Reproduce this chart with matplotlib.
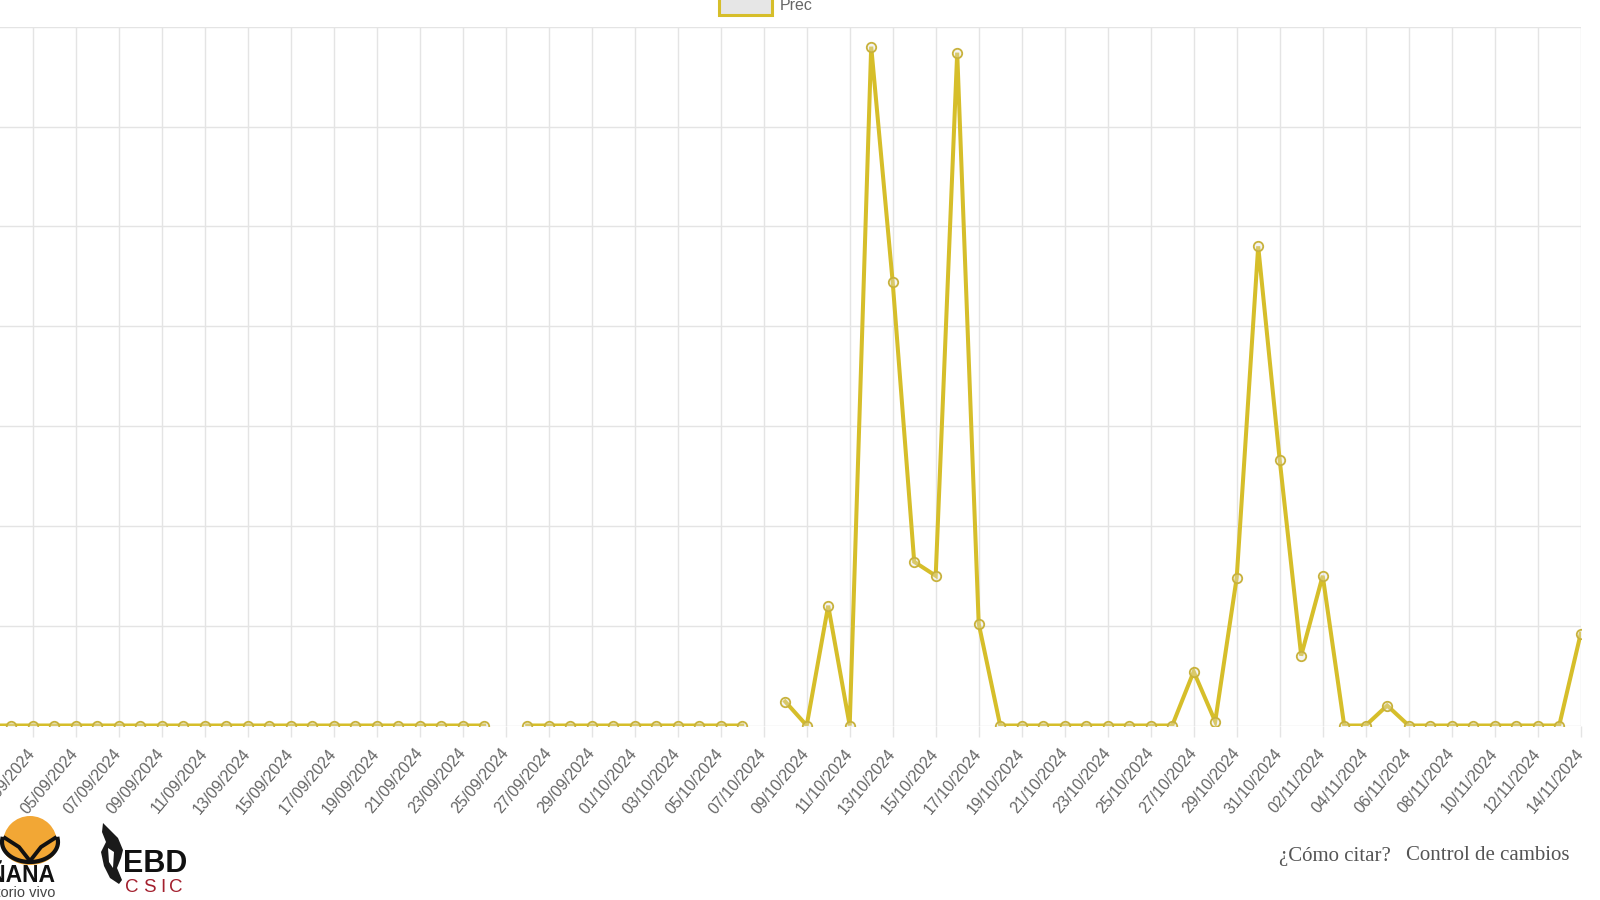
import numpy as np
import pandas as pd
from matplotlib import pyplot as plt
from matplotlib.patches import Rectangle, Ellipse, Polygon

# daily dates shown on the x axis
dates = pd.date_range("2024-09-01", "2024-11-14", freq="D")
date_labels = [d.strftime("%d/%m/%Y") for d in dates]

# precipitation (mm), None = no data
prec = ([0.0] * 24 + [None] + [0.0] * 11 + [None] +
        [1.2, 0.0, 6.0, 0.0, 34.0, 22.2, 8.2, 7.5, 33.7, 5.1] +
        [0.0] * 9 +
        [2.7, 0.2, 7.4, 24.0, 13.3, 3.5, 7.5, 0.0, 0.0, 1.0] +
        [0.0] * 8 + [4.6])
prec = np.array([np.nan if v is None else v for v in prec])

line_col = "#d6be2a"
grid_col = "#e4e4e4"
W, H = 1600, 900

fig = plt.figure(figsize=(16, 9), dpi=100)
fig.patch.set_facecolor("white")

def fx(px):
    return np.asarray(px) / W

def fy(py):
    return 1 - np.asarray(py) / H

# chart area: left part is cut off by the screenshot
x0_px = -10.3
step_px = 21.5
n = len(dates)
left = fx(x0_px)
right = fx(x0_px + (n - 1) * step_px)
bottom = fy(725.5)
top = fy(26.7)
ax = fig.add_axes([left, bottom, right - left, top - bottom])

x = np.arange(n)
ax.plot(x, prec, color=line_col, lw=2.9, zorder=3, solid_joinstyle="miter")
ax.plot(x, prec, ls="none", marker="o", ms=6.8, mew=1.3,
        mfc=(0.88, 0.88, 0.88, 0.35), mec="#c8b23c", zorder=4)

ax.set_xlim(0, n - 1)
ax.set_ylim(0, 35)
ticks = x[2::2]
ax.set_xticks(ticks)
ax.set_xticklabels([date_labels[i] for i in ticks])
ax.set_yticks(np.arange(0, 36, 5))
ax.set_yticklabels([])
ax.grid(True, color=grid_col, lw=1.0)
ax.set_axisbelow(True)
for s in ax.spines.values():
    s.set_visible(False)
ax.tick_params(axis="x", length=8, width=1.0, color=grid_col, pad=10,
               labelsize=11.5, labelcolor="#666666")
ax.tick_params(axis="y", length=0)
for lab in ax.get_xticklabels():
    lab.set_rotation(50)
    lab.set_ha("right")
    lab.set_va("center")
    lab.set_rotation_mode("anchor")
    lab.set_fontfamily("Liberation Sans")

# legend at the top
fig.patches.append(Rectangle((fx(719), fy(15)), fx(53), 18 / H, transform=fig.transFigure,
                             facecolor="#e6e6e6", edgecolor=line_col, lw=2.2))
fig.text(fx(780), fy(6), "Prec", fontsize=11.5, color="#666666",
         family="Liberation Sans", va="center", ha="left")

# footer links
fig.text(fx(1279), fy(856), "¿Cómo citar?", fontsize=15, color="#555555",
         family="Liberation Serif", va="center", ha="left")
fig.text(fx(1406), fy(856), "Control de cambios", fontsize=15, color="#555555",
         family="Liberation Serif", va="center", ha="left")

# Doñana logo (partly cut by the screenshot)
fig.patches.append(Ellipse((fx(30), fy(843)), 54 / W, 54 / H, transform=fig.transFigure,
                           facecolor="#f2a735", edgecolor="none"))
ang = np.linspace(np.pi * 0.95, np.pi * 2.05, 40)
bowl_x = np.concatenate([30 + 29 * np.cos(ang), [60, 60, 0, 0]])
bowl_y = np.concatenate([843 - 22 * np.sin(ang), [843, 900, 900, 843]])
fig.patches.append(Polygon(np.column_stack([fx(bowl_x), fy(bowl_y)]), closed=True,
                           transform=fig.transFigure, facecolor="white", edgecolor="none"))
fig.lines.append(plt.Line2D(fx(30 + 28 * np.cos(ang)), fy(842 - 20 * np.sin(ang)),
                            transform=fig.transFigure, color="#111111", lw=3))
fig.lines.append(plt.Line2D(fx([5, 19, 30, 41, 55]), fy([838, 847, 861, 847, 838]),
                            transform=fig.transFigure, color="#111111", lw=2.8))
fig.text(fx(55), fy(876), "DOÑANA", fontsize=16.5, fontweight="bold", color="#111111",
         family="Liberation Sans", va="center", ha="right")
fig.text(fx(55), fy(893), "territorio vivo", fontsize=10.5, color="#444444",
         family="Liberation Sans", va="center", ha="right")

# EBD CSIC logo
fig.patches.append(Polygon(np.column_stack([fx([103, 110, 118, 123, 121, 117, 122, 119, 110, 104, 101, 106, 102]),
                                            fy([823, 830, 838, 850, 858, 868, 880, 884, 878, 866, 852, 842, 832])]),
                           closed=True, transform=fig.transFigure,
                           facecolor="#1a1a1a", edgecolor="none"))
fig.patches.append(Polygon(np.column_stack([fx([108, 114, 113, 109]), fy([848, 852, 868, 862])]),
                           closed=True, transform=fig.transFigure,
                           facecolor="white", edgecolor="none"))
fig.text(fx(123), fy(864), "EBD", fontsize=22, fontweight="bold", color="#111111",
         family="Liberation Sans", va="center", ha="left")
for ch, px in zip("CSIC", [125, 143, 160, 169]):
    fig.text(fx(px), fy(888), ch, fontsize=13.5, color="#a3202e",
             family="Liberation Sans", va="center", ha="left")

fig.savefig("out.png", dpi=100)
